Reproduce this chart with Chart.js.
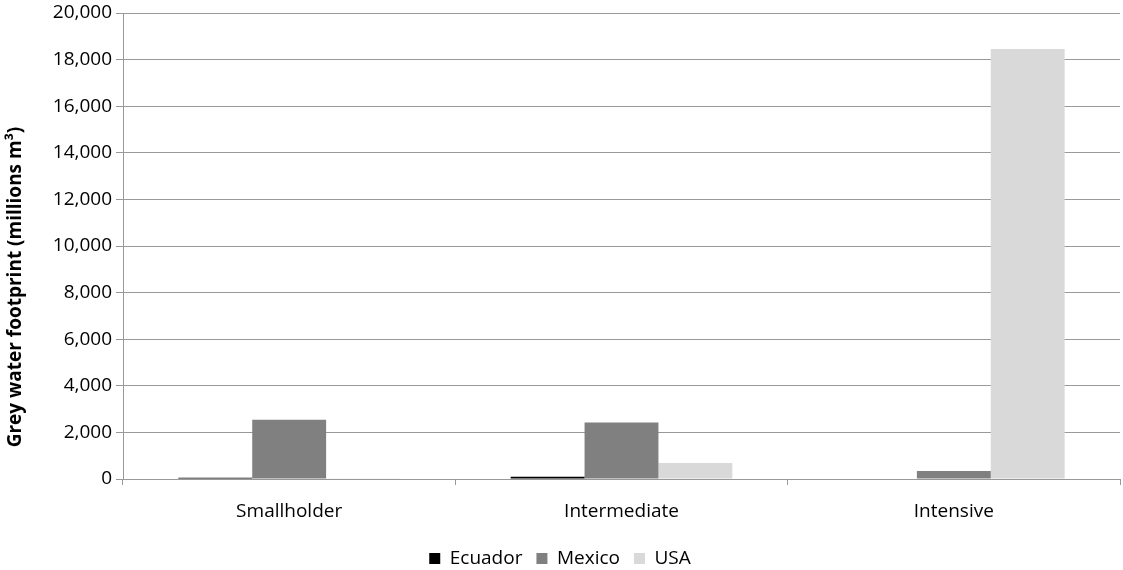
<!DOCTYPE html>
<html><head><meta charset="utf-8">
<script src="https://cdn.jsdelivr.net/npm/chart.js@4"></script>
<style>html,body{margin:0;padding:0;background:#fff}#wrap{width:1123px;height:570px}</style>
</head><body><div id="wrap"><canvas id="c" width="1123" height="570"></canvas></div>
<script>
const categories = ["Smallholder", "Intermediate", "Intensive"];
const ecuador = [50, 100, 0];
const mexico = [2540, 2430, 340];
const usa = [30, 690, 18460];
const yTicks = [0, 2000, 4000, 6000, 8000, 10000, 12000, 14000, 16000, 18000, 20000];
const yTitle = 'Grey water footprint (millions m³)';
const FONT = "'Open Sans', 'Liberation Sans', sans-serif";
const titlePlugin = {
  id: 'ytitle',
  afterDraw(chart) {
    const ctx = chart.ctx;
    ctx.save();
    ctx.translate(16, 287);
    ctx.rotate(-Math.PI / 2);
    ctx.font = "bold 19px " + FONT;
    ctx.fillStyle = '#000';
    ctx.textAlign = 'center';
    ctx.textBaseline = 'middle';
    ctx.fillText(yTitle, 0, 0);
    ctx.restore();
  }
};
new Chart(document.getElementById('c'), {
  type: 'bar',
  data: {
    labels: categories,
    datasets: [
      {label: 'Ecuador', data: ecuador, backgroundColor: '#000000'},
      {label: 'Mexico', data: mexico, backgroundColor: '#808080'},
      {label: 'USA', data: usa, backgroundColor: '#d9d9d9'}
    ]
  },
  plugins: [titlePlugin],
  options: {
    responsive: false, animation: false,
    layout: {padding: {top: 13, right: 3, left: 0, bottom: -8}},
    datasets: {bar: {categoryPercentage: 0.667, barPercentage: 1.0}},
    plugins: {
      legend: {position: 'bottom', labels: {boxWidth: 11, boxHeight: 11, padding: 14, color: '#000', font: {family: FONT, size: 19}}},
      tooltip: {enabled: false}
    },
    scales: {
      x: {
        grid: {drawOnChartArea: false, drawTicks: true, tickLength: 6, color: '#999', offset: true},
        border: {color: '#999'},
        ticks: {color: '#000', font: {family: FONT, size: 19}, padding: 15},
        afterFit: s => { s.height = 56; s.paddingLeft = 0; s.paddingRight = 0; }
      },
      y: {
        min: 0, max: 20000,
        afterBuildTicks: s => { s.ticks = yTicks.map(v => ({value: v})); },
        grid: {color: '#999', tickLength: 7},
        border: {color: '#999'},
        ticks: {color: '#000', font: {family: FONT, size: 19}, padding: 4,
          callback: v => v.toLocaleString('en-US')},
        afterFit: s => { s.width = 123; s.paddingTop = 0; s.paddingBottom = 0; }
      }
    }
  }
});
</script></body></html>
